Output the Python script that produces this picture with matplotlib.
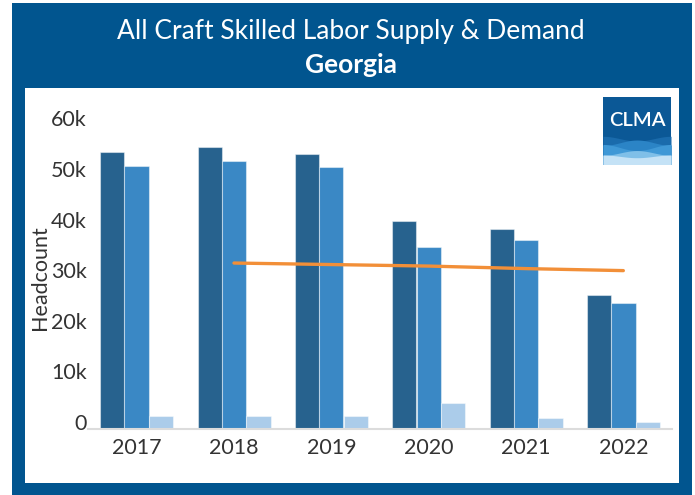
import numpy as np
import matplotlib
matplotlib.use("Agg")
import matplotlib.pyplot as plt
import matplotlib.transforms as mtransforms
from matplotlib.patches import Rectangle

plt.rcParams['font.family'] = ['Lato', 'DejaVu Sans']

# ---- data ----
years = ["2017", "2018", "2019", "2020", "2021", "2022"]
series_a = [54700, 55800, 54300, 41200, 39500, 26400]
series_b = [52000, 53000, 51700, 36000, 37400, 25000]
series_c = [2600, 2600, 2600, 5100, 2100, 1300]
trend_years = ["2018", "2019", "2020", "2021", "2022"]
trend_vals = [32800, 32500, 32200, 31700, 31300]
ytick_vals = [0, 10000, 20000, 30000, 40000, 50000, 60000]
ytick_labels = ["0", "10k", "20k", "30k", "40k", "50k", "60k"]

W, H = 695, 495
fig = plt.figure(figsize=(W / 100, H / 100), dpi=100, facecolor="white")

FRAME = "#01558F"
# outer blue frame and inner white panel (pixel coordinates converted to figure fraction)
def px_rect(x0, y0, x1, y1, color, z):
    fig.patches.append(Rectangle((x0 / W, 1 - y1 / H), (x1 - x0) / W, (y1 - y0) / H,
                                 transform=fig.transFigure, facecolor=color,
                                 edgecolor="none", zorder=z))

px_rect(12, 3, 692, 495, FRAME, -3)
px_rect(25, 88, 679, 483, "white", -2)

fig.text(351 / W, 1 - 31 / H, "All Craft Skilled Labor Supply & Demand",
         color="white", fontsize=19, fontweight="normal", ha="center", va="center")
fig.text(351 / W, 1 - 65 / H, "Georgia", color="white", fontsize=19,
         fontweight="bold", ha="center", va="center")

# ---- main axes ----
ax = fig.add_axes([88 / W, 1 - 429 / H, (672 - 88) / W, (429 - 125.4) / H])
ax.set_facecolor("none")
x = np.arange(len(years))
bw = 0.25
edge = dict(edgecolor=(1, 1, 1, 0.45), linewidth=0.8)
ax.bar(x - bw, series_a, bw, color="#27628E", **edge, zorder=2)
ax.bar(x, series_b, bw, color="#3A88C5", **edge, zorder=2)
ax.bar(x + bw, series_c, bw, color="#ABCCEA", **edge, zorder=2)

tx = [years.index(y) for y in trend_years]
ax.plot(tx, trend_vals, color="#F28F38", linewidth=2.4, solid_capstyle="round", zorder=3)

ax.set_xlim(-0.5, len(years) - 0.5)
ax.set_ylim(0, 60000)
for s in ["top", "right", "left"]:
    ax.spines[s].set_visible(False)
ax.spines["bottom"].set_color("#DCDCDC")
ax.spines["bottom"].set_linewidth(1.5)

ax.set_xticks(x)
ax.set_xticklabels(years)
ax.set_yticks(ytick_vals)
ax.set_yticklabels(ytick_labels)
ax.tick_params(axis="x", length=0, pad=6.5, labelsize=15.5, labelcolor="#333333")
ax.tick_params(axis="y", length=0, pad=1, labelsize=15.5, labelcolor="#333333")
shift = mtransforms.ScaledTranslation(0, 7 / 100, fig.dpi_scale_trans)
for lab in ax.get_yticklabels():
    lab.set_transform(lab.get_transform() + shift)

fig.text(40 / W, 1 - 278 / H, "Headcount", rotation=90, fontsize=15.5,
         color="#333333", ha="center", va="center")

# ---- CLMA logo ----
lx0, ly0, lx1, ly1 = 603, 96.5, 671, 164.5
lax = fig.add_axes([lx0 / W, 1 - ly1 / H, (lx1 - lx0) / W, (ly1 - ly0) / H])
lax.set_xlim(0, 1)
lax.set_ylim(0, 1)
lax.axis("off")
lax.add_patch(Rectangle((0, 0), 1, 1, facecolor="#0B5896", edgecolor="none"))
xs = np.linspace(0, 1, 200)
lax.fill_between(xs, 0, 0.38 + 0.035 * np.cos(2 * np.pi * xs), color="#1A6BAC", lw=0)
lax.fill_between(xs, 0, 0.32 - 0.04 * np.cos(2 * np.pi * xs), color="#2B84C6", lw=0)
lax.fill_between(xs, 0, 0.25 + 0.045 * np.cos(2 * np.pi * xs), color="#3F98D6", lw=0)
lax.fill_between(xs, 0, 0.17 - 0.035 * np.cos(2 * np.pi * xs), color="#7FBFE8", lw=0)
lax.fill_between(xs, 0, 0.12 + 0.02 * np.cos(2 * np.pi * xs), color="#C4E2F6", lw=0)
lax.text(0.5, 0.645, "CLMA", color="white", fontsize=14.5, ha="center", va="center",
         fontweight="semibold")

fig.savefig("out.png", dpi=100, facecolor="white")
